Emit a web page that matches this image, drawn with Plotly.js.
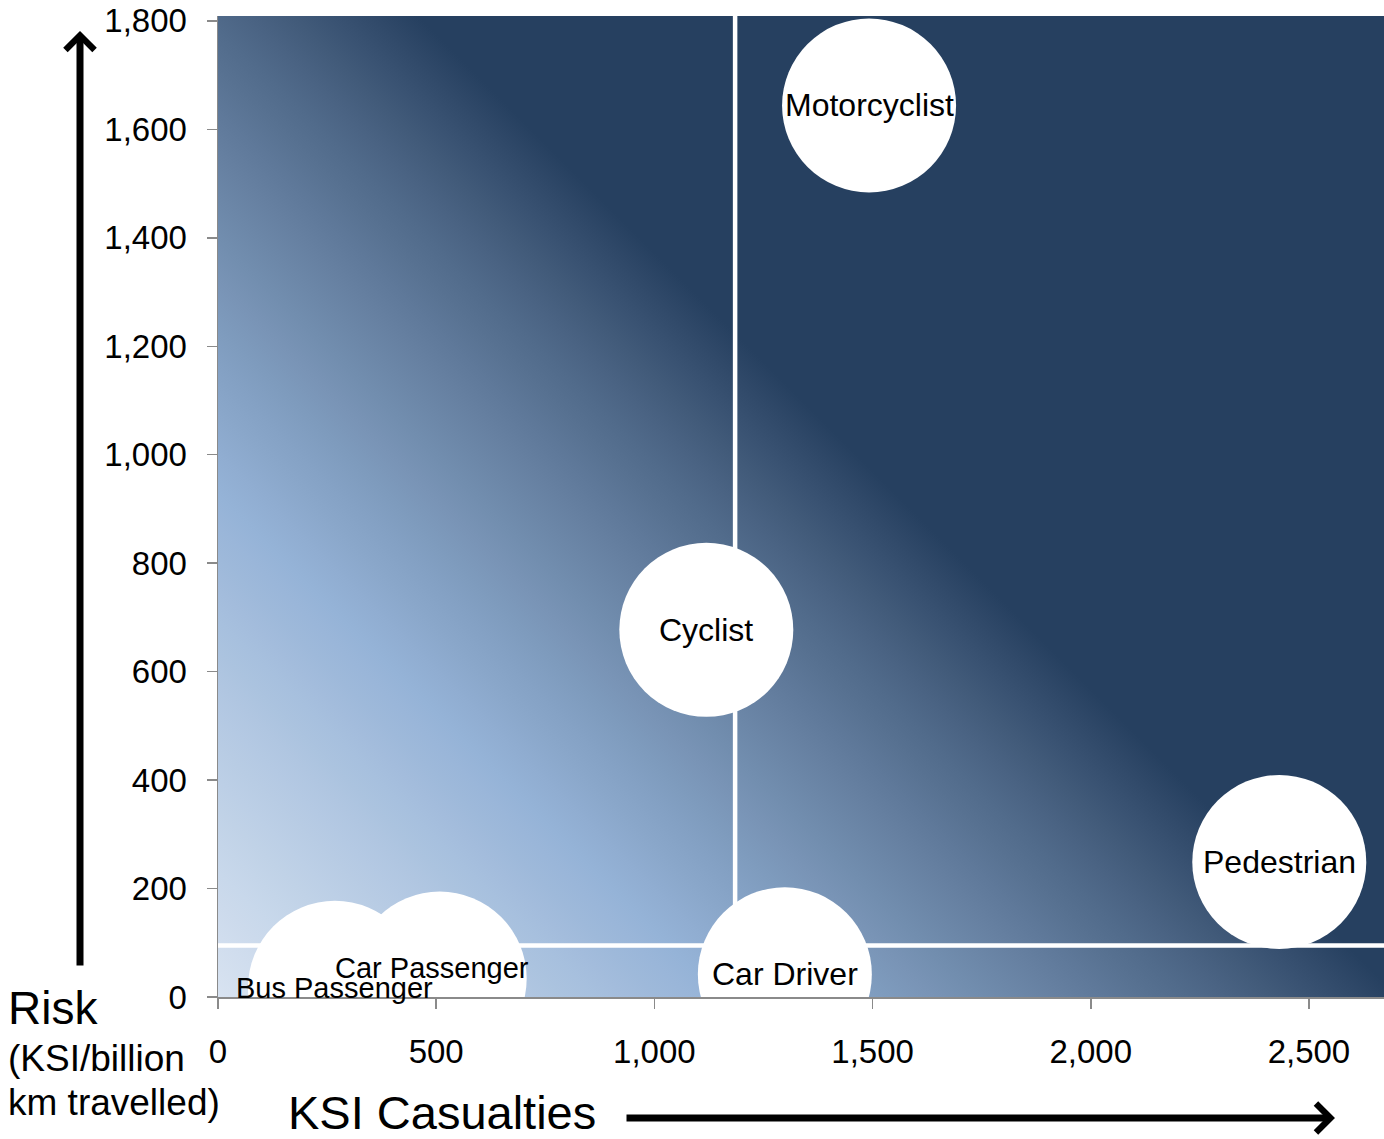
<!DOCTYPE html>
<html>
<head>
<meta charset="utf-8">
<script src="https://cdn.plot.ly/plotly-3.0.1.min.js"></script>
<style>
  html, body { margin: 0; padding: 0; background: #fff; }
  #chart { width: 1384px; height: 1139px; }
</style>
</head>
<body>
<div id="chart"></div>
<script>
// ---- data ----
const roadUsers   = ['Motorcyclist', 'Cyclist', 'Pedestrian', 'Car Driver', 'Car Passenger', 'Bus Passenger'];
const ksiCasualties = [1492, 1119, 2432, 1299, 508, 268];
const riskPerBnKm   = [1644, 677, 249, 42, 34, 17];
const averageKsi  = 1185;
const averageRisk = 95;
const xTickValues = [0, 500, 1000, 1500, 2000, 2500];
const yTickValues = [0, 200, 400, 600, 800, 1000, 1200, 1400, 1600, 1800];

// ---- styling ----
const FONT = 'Liberation Sans, Arial, sans-serif';
const AXIS_GREY = '#8a8a8a';
const labelShift = { 'Car Passenger': [-8, 11] };
const labelSize  = { 'Car Passenger': 29, 'Bus Passenger': 29 };

// diagonal background gradient for the plot area (45 degrees in pixel space)
const gradStops = [[0, '#D8E3F1'], [0.234, '#95B3D7'], [0.55, '#264060'], [1, '#264060']];
const GAMMA = 1.5;
function hexToRgb(h) { return [1, 3, 5].map(i => parseInt(h.substr(i, 2), 16)); }
function toLin(c) { return Math.pow(c / 255, GAMMA); }
function fromLin(v) { return Math.round(Math.max(0, Math.min(1, Math.pow(v, 1 / GAMMA))) * 255); }
function rgbHex(a) { return '#' + a.map(v => v.toString(16).padStart(2, '0')).join(''); }
let stopXml = '';
for (let k = 0; k < gradStops.length - 1; k++) {
  const [t0, c0] = gradStops[k], [t1, c1] = gradStops[k + 1];
  const a = hexToRgb(c0).map(toLin), b = hexToRgb(c1).map(toLin);
  const n = 16;
  for (let j = 0; j <= n; j++) {
    const f = j / n;
    const col = a.map((v, i) => fromLin(v + (b[i] - v) * f));
    stopXml += "<stop offset='" + (t0 + (t1 - t0) * f).toFixed(4) + "' stop-color='" + rgbHex(col) + "'/>";
  }
}
const W = 1166, H = 981;
const svg = "<svg xmlns='http://www.w3.org/2000/svg' width='" + W + "' height='" + H + "' viewBox='0 0 " + W + " " + H + "' preserveAspectRatio='none'>" +
  "<defs><linearGradient id='g' gradientUnits='userSpaceOnUse' x1='0' y1='" + H + "' x2='" + ((W + H) / 2) + "' y2='" + (H - (W + H) / 2) + "'>" +
  stopXml +
  "</linearGradient></defs><rect x='0' y='0' width='" + W + "' height='" + H + "' fill='url(#g)'/></svg>";
const bgUri = 'data:image/svg+xml;charset=utf-8,' + encodeURIComponent(svg);

const bubbles = {
  type: 'scatter',
  mode: 'markers',
  x: ksiCasualties,
  y: riskPerBnKm,
  marker: { size: 174, color: '#ffffff', line: { width: 0 }, opacity: 1 },
  cliponaxis: true,
  hoverinfo: 'skip',
  showlegend: false
};

const labelAnnotations = roadUsers.map((name, i) => {
  const s = labelShift[name] || [0, 0];
  return {
    x: ksiCasualties[i], y: riskPerBnKm[i], xref: 'x', yref: 'y',
    text: name, showarrow: false,
    xshift: s[0], yshift: s[1],
    font: { family: FONT, size: labelSize[name] || 32, color: '#000000' },
    xanchor: 'center', yanchor: 'middle'
  };
});

const px2x = p => (p - 218) / 1166;
const px2y = p => (997 - p) / 981;

const titleAnnotations = [
  { xref: 'paper', yref: 'paper', x: px2x(6), y: px2y(1008), text: 'Risk', showarrow: false,
    xanchor: 'left', yanchor: 'middle', font: { family: FONT, size: 46, color: '#000' } },
  { xref: 'paper', yref: 'paper', x: px2x(6), y: px2y(1058), text: '(KSI/billion', showarrow: false,
    xanchor: 'left', yanchor: 'middle', font: { family: FONT, size: 37, color: '#000' } },
  { xref: 'paper', yref: 'paper', x: px2x(6), y: px2y(1102), text: 'km travelled)', showarrow: false,
    xanchor: 'left', yanchor: 'middle', font: { family: FONT, size: 37, color: '#000' } },
  { xref: 'paper', yref: 'paper', x: px2x(286), y: px2y(1112), text: 'KSI Casualties', showarrow: false,
    xanchor: 'left', yanchor: 'middle', font: { family: FONT, size: 47, color: '#000' } },
  // vertical arrow
  { xref: 'paper', yref: 'paper', x: px2x(80), y: px2y(31), text: '', showarrow: true,
    ax: 0, ay: 936, axref: 'pixel', ayref: 'pixel',
    arrowhead: 4, arrowsize: 0.8, arrowwidth: 7, arrowcolor: '#000', standoff: 0 },
  // horizontal arrow
  { xref: 'paper', yref: 'paper', x: px2x(1335), y: px2y(1118), text: '', showarrow: true,
    ax: -710, ay: 0, axref: 'pixel', ayref: 'pixel',
    arrowhead: 4, arrowsize: 0.8, arrowwidth: 7, arrowcolor: '#000', standoff: 0 }
];

const layout = {
  width: 1384, height: 1139,
  margin: { l: 218, r: 0, t: 16, b: 142, pad: 0 },
  paper_bgcolor: '#ffffff',
  plot_bgcolor: 'rgba(0,0,0,0)',
  showlegend: false,
  font: { family: FONT, color: '#000' },
  xaxis: {
    range: [0, 2672], tickvals: xTickValues, tickformat: ',',
    ticks: 'outside', ticklen: 10, tickwidth: 1.5, tickcolor: AXIS_GREY,
    showline: true, linecolor: AXIS_GREY, linewidth: 1.5,
    showgrid: false, zeroline: false, layer: 'below traces',
    tickfont: { family: FONT, size: 33, color: '#000' },
    ticklabelstandoff: 15,
    fixedrange: true
  },
  yaxis: {
    range: [0, 1809], tickvals: yTickValues, tickformat: ',',
    ticks: 'outside', ticklen: 10, tickwidth: 1.5, tickcolor: AXIS_GREY,
    showline: true, linecolor: AXIS_GREY, linewidth: 1.5,
    showgrid: false, zeroline: false, layer: 'below traces',
    tickfont: { family: FONT, size: 33, color: '#000' },
    ticklabelstandoff: 13,
    fixedrange: true
  },
  images: [{
    source: bgUri, xref: 'paper', yref: 'paper', x: 0, y: 1,
    sizex: 1, sizey: 1, sizing: 'stretch', xanchor: 'left', yanchor: 'top', layer: 'below'
  }],
  shapes: [
    { type: 'line', xref: 'x', yref: 'paper', x0: averageKsi, x1: averageKsi, y0: 0, y1: 1,
      line: { color: '#ffffff', width: 4.5 }, layer: 'below' },
    { type: 'line', xref: 'paper', yref: 'y', x0: 0, x1: 1, y0: averageRisk, y1: averageRisk,
      line: { color: '#ffffff', width: 4.5 }, layer: 'below' }
  ],
  annotations: labelAnnotations.concat(titleAnnotations)
};

Plotly.newPlot('chart', [bubbles], layout, { staticPlot: true, displayModeBar: false });
</script>
</body>
</html>
